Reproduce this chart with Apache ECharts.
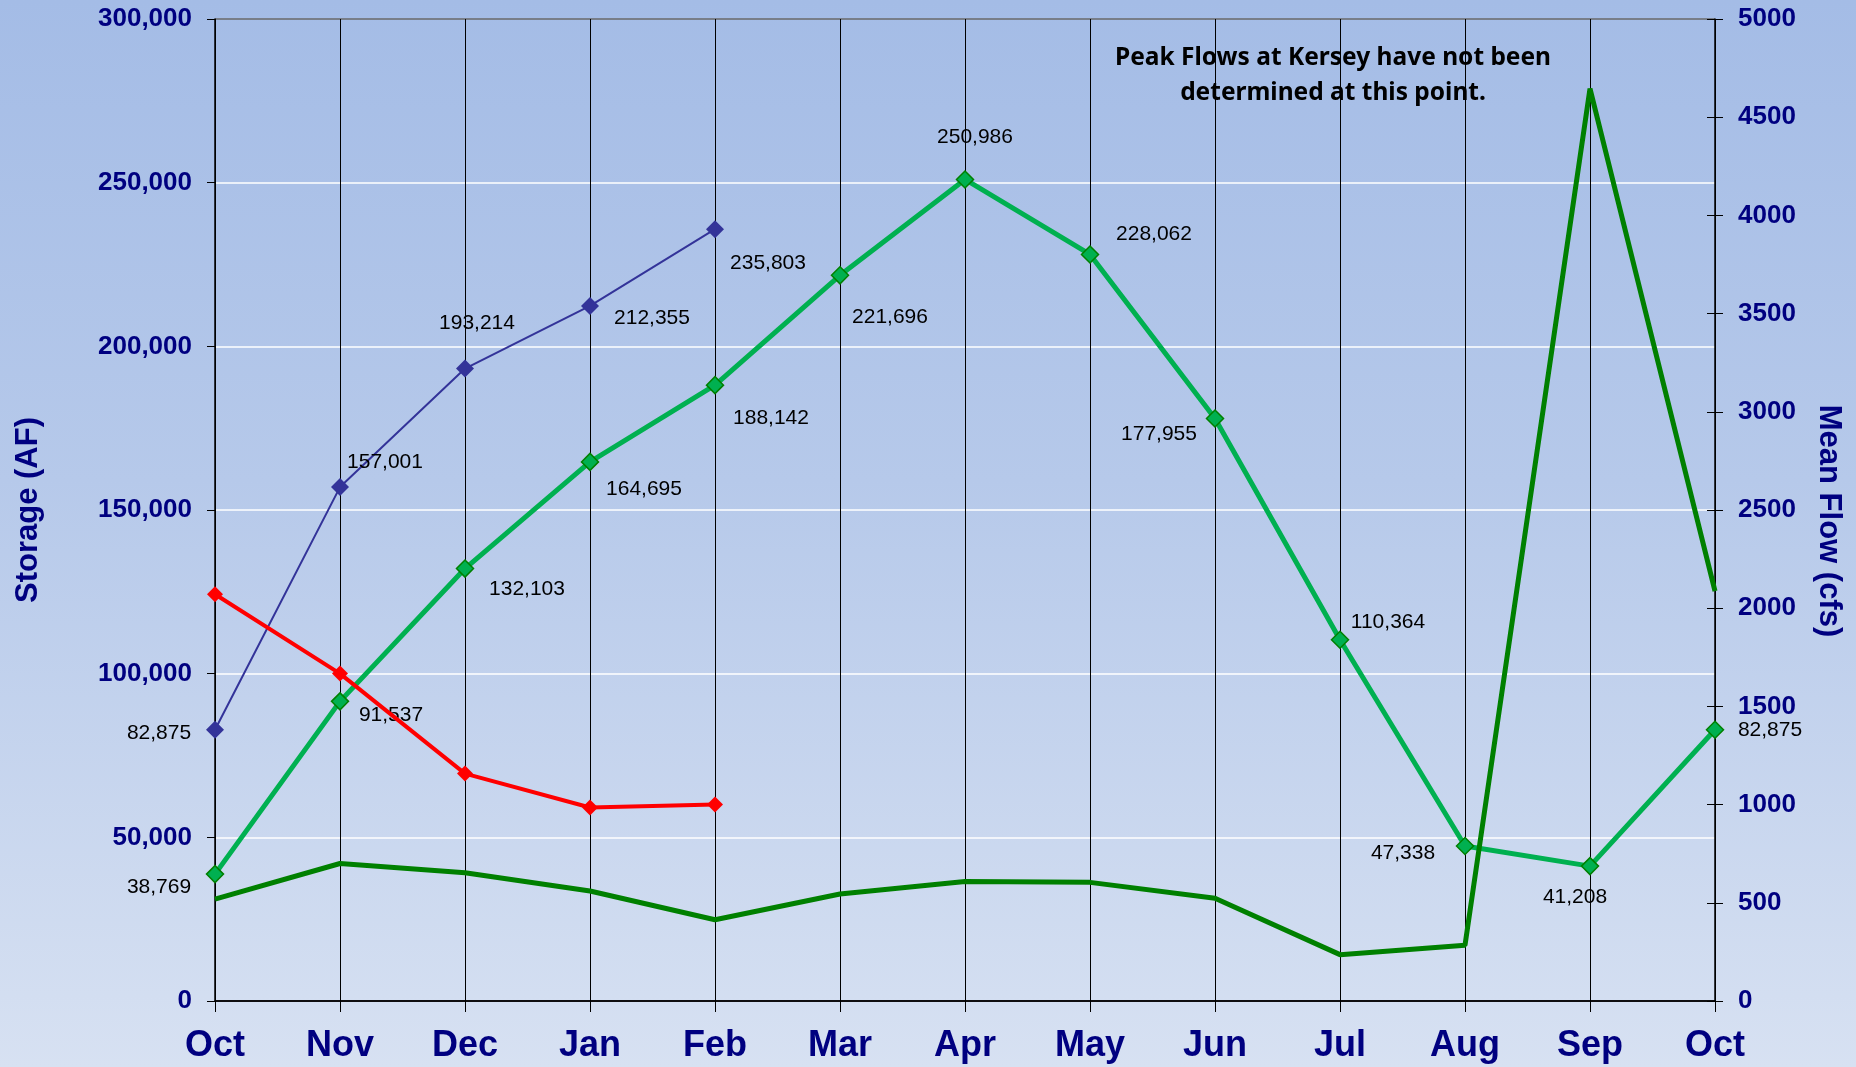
<!DOCTYPE html>
<html>
<head>
<meta charset="utf-8">
<script src="https://cdn.jsdelivr.net/npm/echarts@6/dist/echarts.min.js"></script>
<style>
  html, body { margin: 0; padding: 0; }
  #chart { width: 1856px; height: 1067px; background: linear-gradient(to bottom, #a4bce6 0%, #b6c9ea 45%, #d7e1f2 100%); }
</style>
</head>
<body>
<div id="chart"></div>
<script>
  // month categories, water year Oct -> Oct
  var months = ['Oct', 'Nov', 'Dec', 'Jan', 'Feb', 'Mar', 'Apr', 'May', 'Jun', 'Jul', 'Aug', 'Sep', 'Oct'];
  // storage (AF), left axis
  var avgStorage = [38769, 91537, 132103, 164695, 188142, 221696, 250986, 228062, 177955, 110364, 47338, 41208, 82875];
  var curStorage = [82875, 157001, 193214, 212355, 235803];
  // mean flow (cfs), right axis
  var curFlow = [2071, 1667, 1158, 985, 1000];
  var avgFlow = [519, 700, 653, 560, 414, 545, 608, 604, 523, 236, 284, 4646, 2087];
  var storageTicks = [0, 300000, 50000];
  var flowTicks = [0, 5000, 500];

  // where each value label sits relative to its point
  var avgLabelPos = [[-56, 13], [51, 14], [62, 21], [54, 27], [56, 33], [50, 42], [10, -42],
    [64, -20], [-56, 16], [48, -18], [-62, 7], [-15, 31], [55, 0]];
  var curLabelPos = [[-56, 3], [45, -25], [12, -45], [62, 12], [53, 34]];

  var navy = '#000080';
  var fmt = function (v) { return Number(v).toLocaleString('en-US'); };

  function withLabels(values, pos) {
    return values.map(function (v, i) {
      return { value: v, label: { offset: pos[i] } };
    });
  }

  var myChart = echarts.init(document.getElementById('chart'));
  var option = {
    animation: false,
    grid: { left: 215, right: 141, top: 19, bottom: 66 },
    xAxis: {
      type: 'category',
      data: months,
      boundaryGap: false,
      axisLine: { lineStyle: { color: '#000', width: 1.5 } },
      axisTick: { length: 11, lineStyle: { color: '#000' } },
      axisLabel: { interval: 0, margin: 27, color: navy, fontSize: 36, fontWeight: 'bold', fontFamily: 'Liberation Sans' },
      splitLine: { show: true, lineStyle: { color: '#000', width: 1 } }
    },
    yAxis: [
      {
        type: 'value',
        min: storageTicks[0], max: storageTicks[1], interval: storageTicks[2],
        name: 'Storage (AF)',
        nameLocation: 'middle',
        nameGap: 171,
        nameTextStyle: { color: navy, fontSize: 31, fontWeight: 'bold', fontFamily: 'Liberation Sans' },
        axisLine: { show: true, lineStyle: { color: '#000', width: 1.5 } },
        axisTick: { show: true, length: 8, lineStyle: { color: '#000' } },
        axisLabel: { margin: 23, color: navy, fontSize: 26, fontWeight: 'bold', fontFamily: 'Liberation Sans', formatter: fmt },
        splitLine: { show: true, lineStyle: { color: ['#000', '#fff', '#fff', '#fff', '#fff', '#fff', '#6a6a6a'], width: 1.5 } }
      },
      {
        type: 'value',
        position: 'right',
        min: flowTicks[0], max: flowTicks[1], interval: flowTicks[2],
        name: 'Mean Flow (cfs)',
        nameLocation: 'middle',
        nameRotate: -90,
        nameGap: 98,
        nameTextStyle: { color: navy, fontSize: 31, fontWeight: 'bold', fontFamily: 'Liberation Sans', padding: [0, 0, 0, 22] },
        axisLine: { show: true, lineStyle: { color: '#000', width: 1.5 } },
        axisTick: { show: true, length: 8, lineStyle: { color: '#000' } },
        axisLabel: { margin: 23, color: navy, fontSize: 26, fontWeight: 'bold', fontFamily: 'Liberation Sans', formatter: function (v) { return String(v); } },
        splitLine: { show: false }
      },
      {
        // inner half of the right axis ticks
        type: 'value',
        position: 'right',
        min: flowTicks[0], max: flowTicks[1], interval: flowTicks[2],
        axisLine: { show: false },
        axisTick: { show: true, inside: true, length: 8, lineStyle: { color: '#000' } },
        axisLabel: { show: false },
        splitLine: { show: false }
      }
    ],
    series: [
      {
        name: 'Average Storage',
        type: 'line',
        yAxisIndex: 0,
        data: withLabels(avgStorage, avgLabelPos),
        symbol: 'diamond',
        symbolSize: 17,
        lineStyle: { color: '#00b050', width: 5 },
        itemStyle: { color: '#00b050', borderColor: '#008000', borderWidth: 1.5 },
        label: { show: true, position: 'inside', color: '#000', fontSize: 21, fontFamily: 'Liberation Sans', formatter: function (p) { return fmt(p.value); } },
        z: 2
      },
      {
        name: 'Current Storage',
        type: 'line',
        yAxisIndex: 0,
        data: withLabels(curStorage, curLabelPos),
        symbol: 'diamond',
        symbolSize: 18,
        lineStyle: { color: '#333399', width: 2 },
        itemStyle: { color: '#333399' },
        label: { show: true, position: 'inside', color: '#000', fontSize: 21, fontFamily: 'Liberation Sans', formatter: function (p) { return fmt(p.value); } },
        z: 3
      },
      {
        name: 'Current Flow',
        type: 'line',
        yAxisIndex: 1,
        data: curFlow,
        symbol: 'diamond',
        symbolSize: 16,
        lineStyle: { color: '#ff0000', width: 4 },
        itemStyle: { color: '#ff0000' },
        z: 4
      },
      {
        name: 'Average Flow',
        type: 'line',
        yAxisIndex: 1,
        data: avgFlow,
        showSymbol: false,
        symbol: 'none',
        lineStyle: { color: '#008000', width: 5 },
        z: 5
      }
    ],
    graphic: [
      {
        type: 'text',
        x: 1333,
        y: 76,
        style: {
          text: 'Peak Flows at Kersey have not been\ndetermined at this point.',
          font: 'bold 24.5px "Noto Sans"',
          fill: '#000',
          align: 'center',
          verticalAlign: 'middle',
          lineHeight: 35
        }
      }
    ]
  };
  myChart.setOption(option);
</script>
</body>
</html>
